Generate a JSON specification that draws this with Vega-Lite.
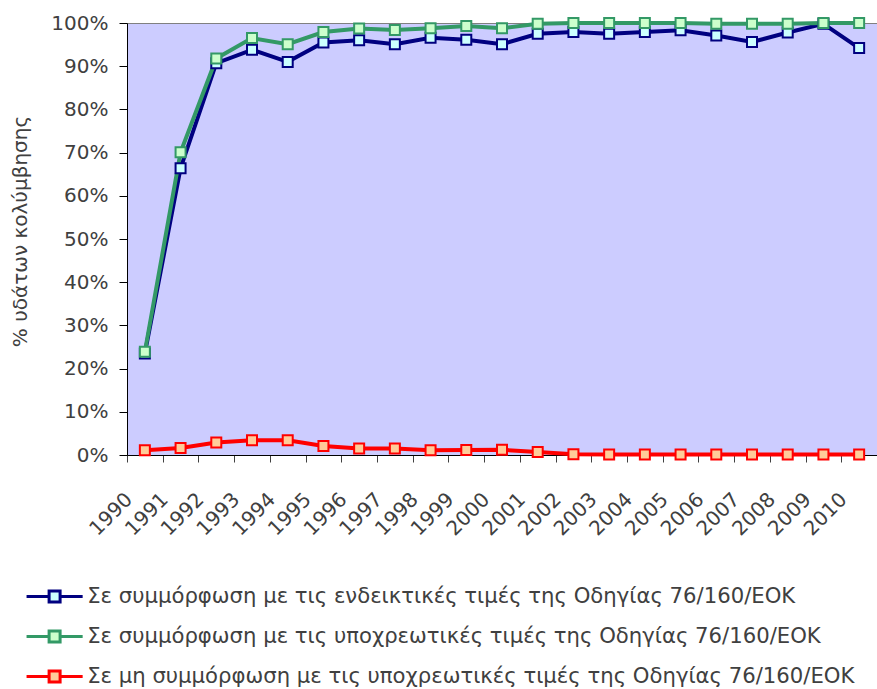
{
  "$schema": "https://vega.github.io/schema/vega-lite/v6.json",
  "width": 750,
  "height": 432,
  "autosize": {"type": "none"},
  "padding": {"left": 127, "top": 23, "right": 0, "bottom": 234},
  "background": "white",
  "config": {
    "view": {"fill": "#CCCCFF", "stroke": "#808080", "strokeWidth": 1},
    "font": "DejaVu Sans"
  },
  "data": {
    "values": [
      {"year": "1990", "s": "A", "v": 23.5}, {"year": "1991", "s": "A", "v": 66.4}, {"year": "1992", "s": "A", "v": 90.7},
      {"year": "1993", "s": "A", "v": 93.8}, {"year": "1994", "s": "A", "v": 91.0}, {"year": "1995", "s": "A", "v": 95.5},
      {"year": "1996", "s": "A", "v": 96.0}, {"year": "1997", "s": "A", "v": 95.1}, {"year": "1998", "s": "A", "v": 96.6},
      {"year": "1999", "s": "A", "v": 96.1}, {"year": "2000", "s": "A", "v": 95.1}, {"year": "2001", "s": "A", "v": 97.5},
      {"year": "2002", "s": "A", "v": 97.9}, {"year": "2003", "s": "A", "v": 97.5}, {"year": "2004", "s": "A", "v": 97.9},
      {"year": "2005", "s": "A", "v": 98.3}, {"year": "2006", "s": "A", "v": 97.1}, {"year": "2007", "s": "A", "v": 95.6},
      {"year": "2008", "s": "A", "v": 97.8}, {"year": "2009", "s": "A", "v": 99.8}, {"year": "2010", "s": "A", "v": 94.2},
      {"year": "1990", "s": "B", "v": 23.9}, {"year": "1991", "s": "B", "v": 70.1}, {"year": "1992", "s": "B", "v": 91.8},
      {"year": "1993", "s": "B", "v": 96.5}, {"year": "1994", "s": "B", "v": 95.1}, {"year": "1995", "s": "B", "v": 97.9},
      {"year": "1996", "s": "B", "v": 98.7}, {"year": "1997", "s": "B", "v": 98.4}, {"year": "1998", "s": "B", "v": 98.8},
      {"year": "1999", "s": "B", "v": 99.3}, {"year": "2000", "s": "B", "v": 98.8}, {"year": "2001", "s": "B", "v": 99.8},
      {"year": "2002", "s": "B", "v": 100}, {"year": "2003", "s": "B", "v": 100}, {"year": "2004", "s": "B", "v": 100},
      {"year": "2005", "s": "B", "v": 100}, {"year": "2006", "s": "B", "v": 99.8}, {"year": "2007", "s": "B", "v": 99.8},
      {"year": "2008", "s": "B", "v": 99.8}, {"year": "2009", "s": "B", "v": 100}, {"year": "2010", "s": "B", "v": 100},
      {"year": "1990", "s": "C", "v": 1.1}, {"year": "1991", "s": "C", "v": 1.6}, {"year": "1992", "s": "C", "v": 2.9},
      {"year": "1993", "s": "C", "v": 3.4}, {"year": "1994", "s": "C", "v": 3.4}, {"year": "1995", "s": "C", "v": 2.1},
      {"year": "1996", "s": "C", "v": 1.5}, {"year": "1997", "s": "C", "v": 1.5}, {"year": "1998", "s": "C", "v": 1.1},
      {"year": "1999", "s": "C", "v": 1.15}, {"year": "2000", "s": "C", "v": 1.2}, {"year": "2001", "s": "C", "v": 0.7},
      {"year": "2002", "s": "C", "v": 0.2}, {"year": "2003", "s": "C", "v": 0.1}, {"year": "2004", "s": "C", "v": 0.1},
      {"year": "2005", "s": "C", "v": 0.1}, {"year": "2006", "s": "C", "v": 0.1}, {"year": "2007", "s": "C", "v": 0.1},
      {"year": "2008", "s": "C", "v": 0.1}, {"year": "2009", "s": "C", "v": 0.1}, {"year": "2010", "s": "C", "v": 0.1}
    ]
  },
  "encoding": {
    "x": {
      "field": "year", "type": "ordinal", "bandPosition": 0.5,
      "scale": {"type": "band", "paddingInner": 0, "paddingOuter": 0},
      "axis": {
        "title": null, "tickBand": "extent", "labelAngle": -45, "labelAlign": "right", "labelBaseline": "middle",
        "labelFontSize": 20, "labelColor": "#404040", "labelOffset": -16, "labelPadding": 34,
        "tickSize": 7, "tickColor": "#404040", "domainColor": "#000000"
      }
    },
    "y": {
      "field": "v", "type": "quantitative",
      "scale": {"domain": [0, 100], "nice": false},
      "axis": {
        "title": "% υδάτων κολύμβησης", "titleFontSize": 20, "titleFontWeight": "normal", "titleColor": "#404040",
        "titlePadding": 20, "titleY": 208, "values": [0,10,20,30,40,50,60,70,80,90,100], "labelExpr": "datum.value + '%'",
        "labelFontSize": 20, "labelColor": "#404040", "labelPadding": 11, "tickSize": 8, "tickColor": "#000000",
        "domainColor": "#000000", "grid": false
      }
    },
    "stroke": {
      "field": "s", "type": "nominal",
      "scale": {"domain": ["A", "B", "C"], "range": ["#000080", "#339966", "#FF0000"]},
      "legend": {
        "title": null, "orient": "none", "legendX": -83, "legendY": 563, "direction": "vertical",
        "labelExpr": "datum.value == 'A' ? 'Σε συμμόρφωση με τις ενδεικτικές τιμές της Οδηγίας 76/160/ΕΟΚ' : datum.value == 'B' ? 'Σε συμμόρφωση με τις υποχρεωτικές τιμές της Οδηγίας 76/160/ΕΟΚ' : 'Σε μη συμμόρφωση με τις υποχρεωτικές τιμές της Οδηγίας 76/160/ΕΟΚ'",
        "labelFontSize": 21.2, "labelColor": "#404040", "labelLimit": 900, "labelOffset": 22,
        "symbolType": "M-5.1,0H-1M1,0H5.1M-1,-1H1V1H-1Z", "symbolSize": 121, "symbolStrokeWidth": 3,
        "rowPadding": 16, "padding": 0, "offset": 0
      }
    }
  },
  "layer": [
    {"mark": {"type": "line", "strokeWidth": 4}},
    {
      "mark": {"type": "point", "shape": "square", "size": 100, "strokeWidth": 2, "opacity": 1, "filled": false},
      "encoding": {
        "fill": {
          "field": "s", "type": "nominal",
          "scale": {"domain": ["A", "B", "C"], "range": ["#CCFFFF", "#CCFFCC", "#FFCC99"]},
          "legend": {
            "title": null, "orient": "none", "legendX": -83, "legendY": 563, "direction": "vertical",
            "labelFontSize": 21.2, "symbolType": "M-5.1,0H-1M1,0H5.1M-1,-1H1V1H-1Z", "symbolSize": 121
          }
        }
      }
    }
  ]
}
